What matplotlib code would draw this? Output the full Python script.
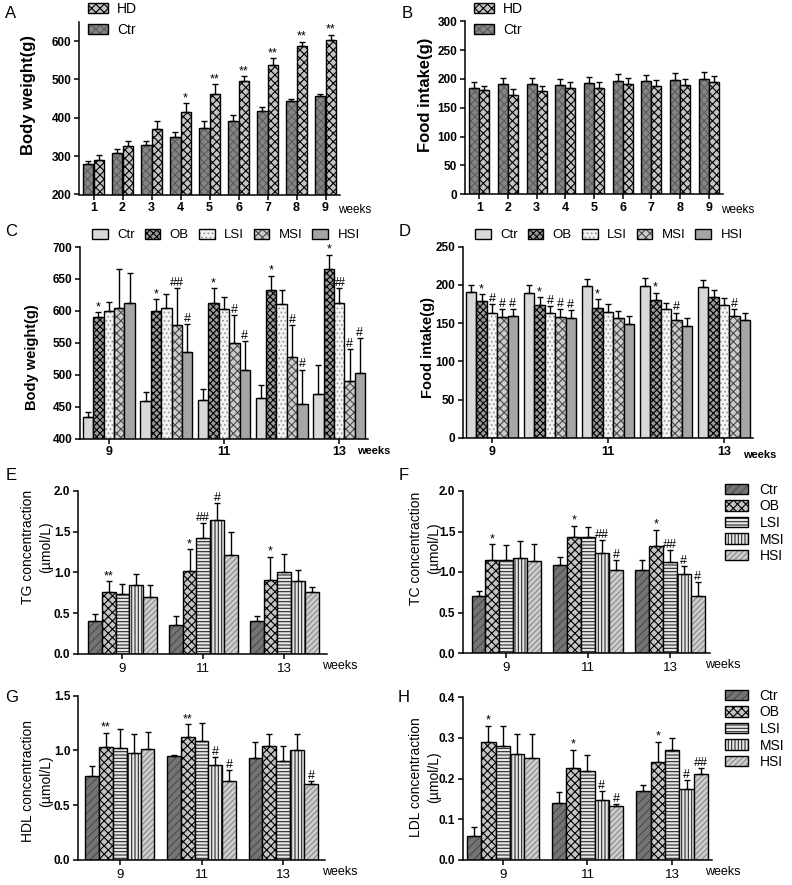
import numpy as np
import matplotlib
matplotlib.use("Agg")
import matplotlib.pyplot as plt
from matplotlib.patches import Patch

plt.rcParams["font.family"] = ["Liberation Sans", "DejaVu Sans"]
plt.rcParams["hatch.linewidth"] = 0.8

W, H = 792, 885

# ---------------- data ----------------
# A / B: weekly body weight and food intake
weeks = [1, 2, 3, 4, 5, 6, 7, 8, 9]
bw_ctr = [280, 308, 330, 351, 374, 393, 419, 445, 456]
bw_ctr_err = [7, 11, 9, 12, 19, 15, 9, 4, 7]
bw_hd = [289, 326, 370, 415, 463, 495, 537, 588, 603]
bw_hd_err = [15, 14, 22, 23, 24, 14, 19, 11, 14]
bw_hd_marks = ["", "", "", "*", "**", "**", "**", "**", "**"]

fi_ctr = [184, 191, 191, 189, 193, 197, 196, 198, 200]
fi_ctr_err = [11, 10, 10, 11, 11, 11, 11, 12, 12]
fi_hd = [180, 172, 179, 184, 185, 191, 188, 190, 195]
fi_hd_err = [8, 10, 9, 11, 10, 11, 10, 10, 11]

# C / D: five groups, weeks 9..13 (rows = Ctr, OB, LSI, MSI, HSI)
groups5 = ["Ctr", "OB", "LSI", "MSI", "HSI"]
cd_weeks = [9, 10, 11, 12, 13]

c_mean = [[434, 458, 460, 464, 470],
          [591, 600, 613, 632, 665],
          [600, 605, 603, 610, 613],
          [604, 578, 549, 527, 490],
          [613, 535, 508, 454, 502]]
c_err = [[8, 15, 18, 20, 45],
         [7, 18, 22, 23, 23],
         [14, 22, 19, 22, 22],
         [62, 57, 45, 51, 50],
         [46, 45, 44, 54, 56]]
c_marks = [["", "", "", "", ""],
           ["*", "*", "*", "*", "*"],
           ["", "", "", "", "##"],
           ["", "##", "#", "#", "#"],
           ["", "#", "#", "#", "#"]]

d_mean = [[191, 189, 198, 199, 197],
          [179, 174, 170, 180, 184],
          [163, 163, 165, 168, 174],
          [158, 158, 157, 154, 159],
          [160, 157, 149, 147, 154]]
d_err = [[9, 11, 10, 10, 10],
         [9, 10, 11, 10, 10],
         [12, 10, 10, 8, 9],
         [10, 10, 9, 10, 10],
         [8, 10, 11, 10, 9]]
d_marks = [["", "", "", "", ""],
           ["*", "*", "*", "*", ""],
           ["#", "#", "", "", ""],
           ["#", "#", "", "#", "#"],
           ["#", "#", "", "", ""]]

# E-H: serum lipids at weeks 9, 11, 13
lipid_weeks = ["9", "11", "13"]

e_mean = [[0.41, 0.35, 0.40],
          [0.76, 1.02, 0.91],
          [0.74, 1.42, 1.00],
          [0.84, 1.64, 0.89],
          [0.70, 1.21, 0.76]]
e_err = [[0.08, 0.11, 0.06],
         [0.13, 0.26, 0.28],
         [0.12, 0.18, 0.22],
         [0.14, 0.21, 0.14],
         [0.14, 0.28, 0.06]]
e_marks = [["", "", ""],
           ["**", "*", "*"],
           ["", "##", ""],
           ["", "#", ""],
           ["", "", ""]]

f_mean = [[0.70, 1.09, 1.03],
          [1.15, 1.43, 1.32],
          [1.15, 1.43, 1.12],
          [1.17, 1.24, 0.98],
          [1.13, 1.02, 0.70]]
f_err = [[0.07, 0.09, 0.12],
         [0.19, 0.14, 0.20],
         [0.18, 0.12, 0.15],
         [0.21, 0.15, 0.09],
         [0.21, 0.13, 0.18]]
f_marks = [["", "", ""],
           ["*", "*", "*"],
           ["", "", "##"],
           ["", "##", "#"],
           ["", "#", "#"]]

g_mean = [[0.77, 0.95, 0.93],
          [1.03, 1.12, 1.04],
          [1.02, 1.09, 0.90],
          [0.98, 0.87, 1.00],
          [1.01, 0.72, 0.69]]
g_err = [[0.09, 0.01, 0.15],
         [0.13, 0.12, 0.11],
         [0.18, 0.16, 0.14],
         [0.17, 0.07, 0.15],
         [0.16, 0.10, 0.03]]
g_marks = [["", "", ""],
           ["**", "**", ""],
           ["", "", ""],
           ["", "#", ""],
           ["", "#", "#"]]

h_mean = [[0.06, 0.14, 0.17],
          [0.29, 0.225, 0.24],
          [0.28, 0.218, 0.27],
          [0.26, 0.148, 0.175],
          [0.25, 0.132, 0.21]]
h_err = [[0.02, 0.028, 0.015],
         [0.04, 0.045, 0.05],
         [0.05, 0.04, 0.03],
         [0.05, 0.022, 0.022],
         [0.06, 0.006, 0.015]]
h_marks = [["", "", ""],
           ["*", "*", "*"],
           ["", "", ""],
           ["", "#", "#"],
           ["", "#", "##"]]

# ---------------- styles ----------------
ab_styles = {
    "Ctr": dict(face="#858585", hatch="xxxx", hc="#5c5c5c"),
    "HD": dict(face="#c4c4c4", hatch="xxxx", hc="#000000"),
}
cd_styles = [
    dict(face="#d8d8d8", hatch=None, hc=None),
    dict(face="#9a9a9a", hatch="xxxxx", hc="#000000"),
    dict(face="#f4f4f4", hatch="....", hc="#9a9a9a"),
    dict(face="#cbcbcb", hatch="xxxx", hc="#4a4a4a"),
    dict(face="#a6a6a6", hatch=None, hc=None),
]
lipid_styles = [
    dict(face="#747474", hatch="////", hc="#4c4c4c"),
    dict(face="#c4c4c4", hatch="xxxx", hc="#000000"),
    dict(face="#e6e6e6", hatch="-----", hc="#2a2a2a"),
    dict(face="#e6e6e6", hatch="|||||", hc="#2a2a2a"),
    dict(face="#cdcdcd", hatch="//////", hc="#8a8a8a"),
]


def add_axes_px(fig, left, right, top, bottom):
    return fig.add_axes([left / W, 1 - bottom / H, (right - left) / W, (bottom - top) / H])


def fig_text(fig, x, y, s, **kw):
    fig.text(x / W, 1 - y / H, s, **kw)


def style_axes(ax):
    for side in ("top", "right"):
        ax.spines[side].set_visible(False)
    for side in ("left", "bottom"):
        ax.spines[side].set_linewidth(1.1)
    ax.tick_params(direction="out", length=3.5, width=1.1, pad=2)


def draw_bars(ax, x, h, w, st):
    if st["hatch"]:
        ax.bar(x, h, w, color=st["face"], edgecolor=st["hc"], hatch=st["hatch"], linewidth=0)
        ax.bar(x, h, w, fill=False, edgecolor="black", linewidth=1.0)
    else:
        ax.bar(x, h, w, color=st["face"], edgecolor="black", linewidth=1.0)


def legend_handle(st):
    if st["hatch"]:
        return (Patch(facecolor=st["face"], edgecolor=st["hc"], hatch=st["hatch"], linewidth=0),
                Patch(fill=False, edgecolor="black", linewidth=1.0))
    return Patch(facecolor=st["face"], edgecolor="black", linewidth=1.0)


def draw_err(ax, x, h, err):
    ax.errorbar(x, h, yerr=[np.zeros(len(h)), err], fmt="none", ecolor="black",
                elinewidth=1.0, capsize=2.2, capthick=1.0)


def draw_marks(ax, x, h, err, marks, size=9):
    for xi, hi, ei, m in zip(x, h, err, marks):
        if m:
            ax.annotate(m, xy=(xi, hi + ei), xytext=(0, 1.5), textcoords="offset points",
                        ha="center", va="baseline", fontsize=size)


def set_y(ax, lo, hi, step, fmt):
    ticks = np.arange(lo, hi + step / 2, step)
    ax.set_ylim(lo, hi)
    ax.set_yticks(ticks, [fmt.format(t) for t in ticks], fontweight="bold", fontsize=8.5)


fig = plt.figure(figsize=(W / 100, H / 100), dpi=100)

# ---------------- A and B ----------------
for left, right, top, bottom, ctr, ctr_err, hd, hd_err, marks, ylab, ylim, letter, lx, ylx in [
    (79, 340, 22, 194.5, bw_ctr, bw_ctr_err, bw_hd, bw_hd_err, bw_hd_marks,
     "Body weight(g)", (200, 650, 100), "A", 11, 29),
    (465, 723, 21.3, 194.3, fi_ctr, fi_ctr_err, fi_hd, fi_hd_err, [""] * 9,
     "Food intake(g)", (0, 300, 50), "B", 407, 425),
]:
    ax = add_axes_px(fig, left, right, top, bottom)
    style_axes(ax)
    x = np.array(weeks, dtype=float)
    w = 0.35
    draw_bars(ax, x - w / 2, ctr, w, ab_styles["Ctr"])
    draw_bars(ax, x + w / 2, hd, w, ab_styles["HD"])
    draw_err(ax, x - w / 2, ctr, ctr_err)
    draw_err(ax, x + w / 2, hd, hd_err)
    draw_marks(ax, x + w / 2, hd, hd_err, marks)
    ax.set_xlim(0.5, 9.5)
    ax.set_xticks(x, [str(v) for v in weeks], fontweight="bold", fontsize=9)
    lo, hi, step = ylim
    ax.set_ylim(lo, hi)
    ticks = np.arange(lo, (600 if lo == 200 else hi) + 1, step)
    ax.set_yticks(ticks, [str(int(t)) for t in ticks], fontweight="bold", fontsize=8.5)
    fig_text(fig, ylx, 95, ylab, rotation=90, ha="center", va="center",
             fontsize=12, fontweight="bold")
    fig_text(fig, lx, 14, letter, ha="center", va="center", fontsize=12)
    fig_text(fig, right - 2, 210, "weeks", ha="left", va="center", fontsize=8.5)
    ax.legend([legend_handle(ab_styles["HD"]), legend_handle(ab_styles["Ctr"])], ["HD", "Ctr"],
              loc="upper left", bbox_to_anchor=((left + 9) / W, 1 - 2 / H),
              bbox_transform=fig.transFigure, frameon=False, fontsize=10,
              handlelength=1.45, handleheight=0.7, handletextpad=0.65,
              labelspacing=0.5, borderpad=0, borderaxespad=0)

# ---------------- C and D ----------------
for left, right, top, bottom, mean, err, marks, ylim, letter, lx, ylx, yly, wk_y in [
    (80, 368, 247, 438.5, c_mean, c_err, c_marks, (400, 700, 50), "C", 11, 32, 357, 451),
    (463, 753, 246.7, 438, d_mean, d_err, d_marks, (0, 250, 50), "D", 405, 428, 347, 455),
]:
    ax = add_axes_px(fig, left, right, top, bottom)
    style_axes(ax)
    xg = np.arange(len(cd_weeks), dtype=float)
    w = 0.18
    for i, st in enumerate(cd_styles):
        xi = xg + (i - 2) * w
        draw_bars(ax, xi, mean[i], w, st)
        draw_err(ax, xi, mean[i], err[i])
        draw_marks(ax, xi, mean[i], err[i], marks[i])
    ax.set_xlim(-0.5, 4.5)
    tick_idx = [i for i, wk in enumerate(cd_weeks) if wk % 2 == 1]
    ax.set_xticks(tick_idx, [str(cd_weeks[i]) for i in tick_idx], fontweight="bold", fontsize=9)
    lo, hi, step = ylim
    set_y(ax, lo, hi, step, "{:.0f}")
    fig_text(fig, ylx, yly, "Body weight(g)" if letter == "C" else "Food intake(g)",
             rotation=90, ha="center", va="center", fontsize=10.5, fontweight="bold")
    fig_text(fig, lx, 232, letter, ha="center", va="center", fontsize=12)
    fig_text(fig, right - 11 if letter == "C" else right - 10, wk_y, "weeks",
             ha="left", va="center", fontsize=8, fontweight="bold")
    ax.legend([legend_handle(st) for st in cd_styles], groups5, ncol=5,
              loc="center left", bbox_to_anchor=((left + 12) / W, 1 - 235 / H),
              bbox_transform=fig.transFigure, frameon=False, fontsize=9.5,
              handlelength=1.2, handleheight=0.85, handletextpad=0.7,
              columnspacing=0.75, borderpad=0, borderaxespad=0)

# ---------------- E to H ----------------
panels = [
    (78, 327, 490.7, 654, e_mean, e_err, e_marks, (0, 2.0, 0.5), (-0.55, 2.53), "E", 11, 476,
     "TG concentraction\n(\u00b5mol/L)", 37, 547, 666, 322, False),
    (463, 710, 491, 653, f_mean, f_err, f_marks, (0, 2.0, 0.5), (-0.53, 2.49), "F", 404, 476,
     "TC concentraction\n(\u00b5mol/L)", 425, 548, 665, 705, True),
    (78, 325, 695.7, 860, g_mean, g_err, g_marks, (0, 1.5, 0.5), (-0.51, 2.51), "G", 12, 698,
     "HDL concentraction\n(\u00b5mol/L)", 37, 781, 872, 322, False),
    (463, 712, 697, 860, h_mean, h_err, h_marks, (0, 0.4, 0.1), (-0.47, 2.47), "H", 404, 698,
     "LDL concentraction\n(\u00b5mol/L)", 425, 777, 872, 705, True),
]
for (left, right, top, bottom, mean, err, marks, ylim, xlim, letter, lx, ly,
     ylab, ylx, yly, wk_y, wk_x, show_leg) in panels:
    ax = add_axes_px(fig, left, right, top, bottom)
    style_axes(ax)
    xg = np.arange(len(lipid_weeks), dtype=float)
    w = 0.17
    for i, st in enumerate(lipid_styles):
        xi = xg + (i - 2) * w
        draw_bars(ax, xi, mean[i], w, st)
        draw_err(ax, xi, mean[i], err[i])
        draw_marks(ax, xi, mean[i], err[i], marks[i])
    ax.set_xlim(*xlim)
    ax.set_xticks(xg, lipid_weeks, fontsize=9.5)
    ax.tick_params(axis="x", pad=3)
    lo, hi, step = ylim
    set_y(ax, lo, hi, step, "{:.1f}")
    fig_text(fig, ylx, yly, ylab, rotation=90, ha="center", va="center",
             fontsize=10, linespacing=1.3, multialignment="center")
    fig_text(fig, lx, ly, letter, ha="center", va="center", fontsize=12)
    fig_text(fig, wk_x, wk_y, "weeks", ha="left", va="center", fontsize=9)
    if show_leg:
        ax.legend([legend_handle(st) for st in lipid_styles], groups5,
                  loc="upper left", bbox_to_anchor=(725 / W, 1 - (top - 8) / H),
                  bbox_transform=fig.transFigure, frameon=False, fontsize=10,
                  handlelength=1.65, handleheight=0.8, handletextpad=0.85,
                  labelspacing=0.18, borderpad=0, borderaxespad=0)

fig.savefig("out.png", dpi=100)
